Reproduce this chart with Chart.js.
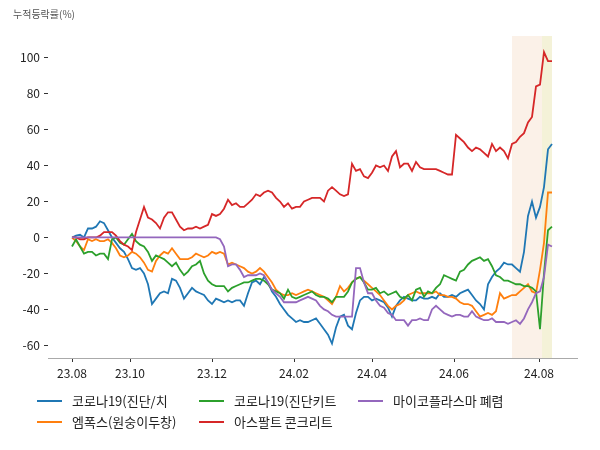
<!DOCTYPE html>
<html>
<head>
<meta charset="utf-8">
<script src="https://cdn.jsdelivr.net/npm/chart.js@4"></script>
<style>
  body { margin: 0; background: #fff; }
  #wrap { position: relative; width: 600px; height: 450px; }
  #title { position: absolute; left: 13px; top: 6px; font: 10px "Noto Sans CJK KR"; color: #555; }
  #legend {
    position: absolute; left: 37px; top: 390px;
    display: grid; grid-template-columns: 162px 159px 210px;
    grid-template-rows: 21px 21px; grid-auto-flow: column;
    font: 13px "Noto Sans CJK KR"; color: #222;
  }
  .item { display: flex; align-items: center; white-space: nowrap; }
  .swatch { width: 25px; height: 2px; margin-right: 10px; }
</style>
</head>
<body>
<div id="wrap">
  <canvas id="chart" width="600" height="450"></canvas>
  <div id="title">누적등락률(%)</div>
  <div id="legend"></div>
</div>
<script>
// x = trading-day index, one point every 2 trading days
const tickPos = [0, 14.5, 35, 55.5, 75, 95.5, 116.75];
const tickLabels = ['23.08', '23.10', '23.12', '24.02', '24.04', '24.06', '24.08'];
const yTicks = [-60, -40, -20, 0, 20, 40, 60, 80, 100];
const names = ['코로나19(진단/치', '엠폭스(원숭이두창)', '코로나19(진단키트', '아스팔트 콘크리트', '마이코플라스마 폐렴'];

const covidTreat = [0,1,1.5,0,5,5,6,9,8,4, 0,-3,-6,-8,-12,-17,-18,-17,-20,-26,
  -37,-34,-31,-30,-31,-23,-24,-28,-34,-31, -28,-30,-31,-32,-35,-37,-34,-35,-36,-35,
  -36,-35,-35,-38,-31,-25,-24,-26,-22,-25, -30,-33,-37,-40,-43,-45,-47,-46,-47,-47,
  -46,-45,-48,-51,-54,-59,-50,-44,-43,-49, -51,-42,-35,-33,-33,-35,-34,-35,-36,-39,
  -44,-38,-35,-33,-34,-35,-35,-33,-34,-34, -33,-34,-31,-33,-33,-32,-33,-31,-30,-29,
  -32,-35,-37,-40,-26,-22,-19,-17,-14,-15, -15,-17,-19,-8,12,20,11,17,28,49,52];
const mpox = [0,-2,-5,-7,-1,-2,-1,-2,-2,-1, -3,-6,-10,-11,-10,-8,-9,-11,-14,-18,
  -19,-13,-10,-8,-9,-6,-9,-12,-12,-12, -11,-9,-10,-11,-10,-8,-9,-8,-9,-15,
  -14,-15,-16,-17,-19,-20,-19,-17,-19,-22, -25,-29,-31,-32,-32,-31,-32,-31,-30,-29,
  -30,-31,-32,-33,-35,-37,-33,-27,-30,-28, -25,-23,-22,-24,-26,-28,-30,-32,-35,-38,
  -40,-38,-37,-35,-32,-31,-30,-31,-31,-31, -31,-30,-32,-32,-33,-33,-34,-36,-37,-37,
  -38,-41,-44,-43,-42,-43,-41,-31,-34,-33, -32,-32,-30,-28,-26,-30,-31,-18,-3,25,25];
const covidKit = [-5,-1,-5,-9,-8,-8,-10,-9,-9,-12, -1,0,-3,-4,-1,2,-2,-4,-5,-8,
  -13,-10,-11,-12,-14,-16,-14,-18,-21,-19, -16,-15,-13,-20,-24,-26,-27,-27,-27,-30,
  -28,-27,-26,-25,-25,-24,-23,-23,-24,-26, -29,-30,-31,-34,-29,-33,-34,-33,-32,-31,
  -30,-32,-33,-33,-34,-36,-33,-33,-33,-30, -25,-23,-22,-25,-29,-29,-28,-31,-30,-32,
  -31,-30,-33,-34,-32,-35,-29,-28,-33,-30, -31,-28,-26,-21,-22,-23,-24,-19,-18,-15,
  -13,-12,-11,-13,-12,-16,-21,-22,-24,-24, -25,-26,-26,-27,-27,-28,-30,-51,-20,4,6];
const asphalt = [0,0,-1,-1,0,0,0,1,3,3, 3,1,-2,-4,-5,-7,3,10,17,11,
  10,8,5,11,14,14,10,6,4,5, 5,6,5,6,7,13,12,13,16,21,
  18,19,17,17,19,21,24,23,25,26, 25,22,20,17,19,16,17,17,20,21,
  22,22,22,20,26,28,26,24,23,24, 41,37,38,34,33,36,40,39,40,37,
  45,48,39,41,41,37,42,39,38,38, 38,38,37,36,35,35,57,55,53,50,
  48,50,49,47,45,52,48,50,48,44, 52,53,56,58,64,67,84,85,103,98,98];
const mycoplasma = [0,0,0,0,0,0,0,0,0,0, 0,0,0,0,0,0,0,0,0,0,
  0,0,0,0,0,0,0,0,0,0, 0,0,0,0,0,0,0,-1,-5,-16,
  -15,-15,-18,-22,-21,-21,-21,-20,-21,-25, -29,-31,-33,-36,-36,-36,-36,-35,-34,-33,
  -34,-35,-38,-40,-41,-43,-44,-44,-44,-44, -44,-17,-17,-25,-31,-31,-35,-38,-39,-42,
  -43,-46,-46,-46,-49,-46,-46,-45,-46,-46, -40,-38,-40,-42,-43,-44,-43,-43,-44,-44,
  -41,-44,-45,-46,-46,-45,-47,-47,-47,-48, -47,-46,-48,-45,-40,-36,-31,-30,-22,-4,-5];

const bandStarts = [110, 117.5];
const bandEnds = [117.5, 120];

const series = [covidTreat, mpox, covidKit, asphalt, mycoplasma];
const colors = ['#1f77b4', '#ff7f0e', '#2ca02c', '#d62728', '#9467bd'];
const bandColors = ['#fbf1e8', '#f4f2d8'];

Chart.defaults.font.family = '"Noto Sans CJK KR", sans-serif';

const bandPlugin = {
  id: 'bands',
  beforeDatasetsDraw(chart) {
    const { ctx, chartArea, scales } = chart;
    ctx.save();
    bandStarts.forEach((s, i) => {
      const x1 = scales.x.getPixelForValue(s);
      const x2 = scales.x.getPixelForValue(bandEnds[i]);
      ctx.fillStyle = bandColors[i];
      ctx.fillRect(x1, chartArea.top, x2 - x1, chartArea.bottom - chartArea.top);
    });
    ctx.restore();
  }
};

const chart = new Chart(document.getElementById('chart'), {
  type: 'line',
  data: {
    datasets: series.map((vals, i) => ({
      label: names[i],
      data: vals.map((v, k) => ({ x: k, y: v })),
      borderColor: colors[i],
      backgroundColor: colors[i],
      borderWidth: 1.8,
      pointRadius: 0,
      tension: 0,
      order: series.length - 1 - i
    }))
  },
  options: {
    responsive: false,
    animation: false,
    layout: { padding: { left: 0, right: 23, top: 36, bottom: 62 } },
    plugins: { legend: { display: false }, tooltip: { enabled: false } },
    scales: {
      x: {
        type: 'linear',
        min: -6,
        max: 126.25,
        afterBuildTicks: s => { s.ticks = tickPos.map(v => ({ value: v })); },
        afterFit: s => { s.height = 30; },
        ticks: {
          autoSkip: false, maxRotation: 0, padding: 4,
          color: '#222', font: { size: 12 },
          callback: (v, i) => tickLabels[i]
        },
        grid: { drawOnChartArea: false, tickLength: 4, tickColor: '#333' },
        border: { color: '#aaa' }
      },
      y: {
        min: -67,
        max: 112,
        afterBuildTicks: s => { s.ticks = yTicks.map(v => ({ value: v })); },
        afterFit: s => { s.width = 48; },
        ticks: { padding: 4, color: '#222', font: { size: 12 } },
        grid: { drawOnChartArea: false, tickLength: 4, tickColor: '#333' },
        border: { display: false }
      }
    }
  },
  plugins: [bandPlugin]
});

// legend, column by column like the original
const legend = document.getElementById('legend');
chart.data.datasets.forEach(ds => {
  const item = document.createElement('div');
  item.className = 'item';
  item.innerHTML = '<span class="swatch" style="background:' + ds.borderColor + '"></span>' + ds.label;
  legend.appendChild(item);
});
</script>
</body>
</html>
